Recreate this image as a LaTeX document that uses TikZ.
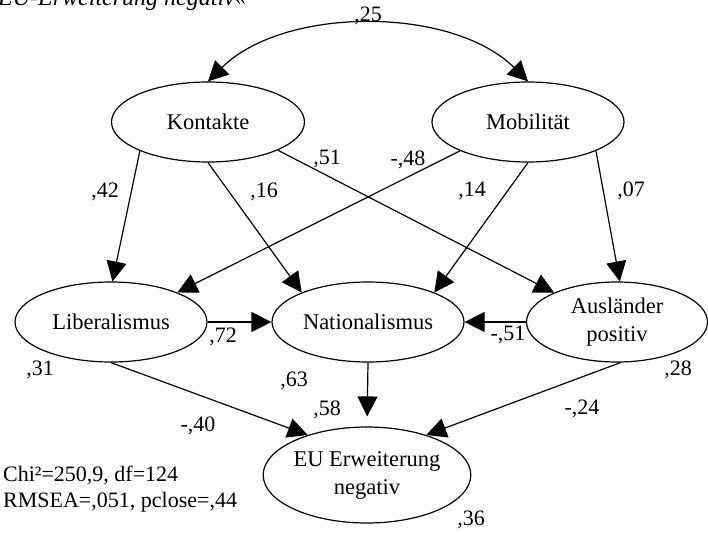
\documentclass[tikz,border=0pt]{standalone}
\usepackage{fontspec}
\setmainfont{Liberation Serif}
\usetikzlibrary{arrows.meta,shapes.geometric}
\begin{document}
\begin{tikzpicture}[x=1pt,y=-1pt,
  lv/.style={draw,ellipse,line width=1.2pt,inner sep=0pt,font=\fontsize{22.5}{28}\selectfont,align=center},
  path/.style={line width=1.2pt,-{Triangle[length=20pt,width=20pt]}},
  coef/.style={font=\fontsize{22}{24}\selectfont,inner sep=0pt},
  stat/.style={font=\fontsize{22}{25}\selectfont,inner sep=0pt,anchor=west}]
\useasboundingbox (0,0) rectangle (708,532);
\clip (0,0) rectangle (708,532);
\node[font=\itshape\fontsize{24}{26}\selectfont,inner sep=0pt,anchor=base west] (title) at (-2,6) {EU-Erweiterung negativ«};
\node[lv,minimum width=193pt,minimum height=80pt] (K) at (208,122) {Kontakte};
\node[lv,minimum width=192pt,minimum height=80pt] (M) at (528,122) {Mobilität};
\node[lv,minimum width=192pt,minimum height=80pt] (L) at (111,322) {Liberalismus};
\node[lv,minimum width=192pt,minimum height=80pt] (N) at (368,322) {Nationalismus};
\node[lv,minimum width=181pt,minimum height=80pt] (A) at (617,322) {Ausländer\\positiv};
\node[lv,minimum width=194pt,minimum height=96pt] (E) at (367,475) {EU Erweiterung\\negativ};
\draw[line width=1.2pt,{Triangle[length=20pt,width=20pt]}-{Triangle[length=20pt,width=20pt]}] (K.90) .. controls (284,6) and (452,6) .. (M.90);
\draw[path] (K.203) -- (L.88);
\draw[path] (K.270) -- (N.156);
\draw[path] (K.338) -- (A.155);
\draw[path] (M.203) -- (L.24);
\draw[path] (M.270) -- (N.24);
\draw[path] (M.337) -- (A.86);
\draw[path] (L.0) -- (N.180);
\draw[path] (A.180) -- (N.0);
\draw[path,shorten >=10pt] (N.270) -- (E.90);
\draw[path] (L.270) -- (E.146);
\draw[path] (A.275) -- (E.34);
\node[coef] (c25) at (368,16) {,25};
\node[coef] (c42) at (105,192) {,42};
\node[coef] (c16) at (264,192) {,16};
\node[coef] (c51) at (327,159) {,51};
\node[coef] (c48) at (408,160) {-,48};
\node[coef] (c14) at (472,191) {,14};
\node[coef] (c07) at (631,191) {,07};
\node[coef] (c72) at (223,337) {,72};
\node[coef] (c51b) at (508,335) {-,51};
\node[coef] (c31) at (40,370) {,31};
\node[coef] (c63) at (294,381) {,63};
\node[coef] (c58) at (327,410) {,58};
\node[coef] (c40) at (198,426) {-,40};
\node[coef] (c28) at (678,370) {,28};
\node[coef] (c24) at (582,409) {-,24};
\node[coef] (c36) at (471,520) {,36};
\node[stat] (chi) at (3,475) {Chi²=250,9, df=124};
\node[stat] (rmsea) at (3,502) {RMSEA=,051, pclose=,44};
\end{tikzpicture}
\end{document}
